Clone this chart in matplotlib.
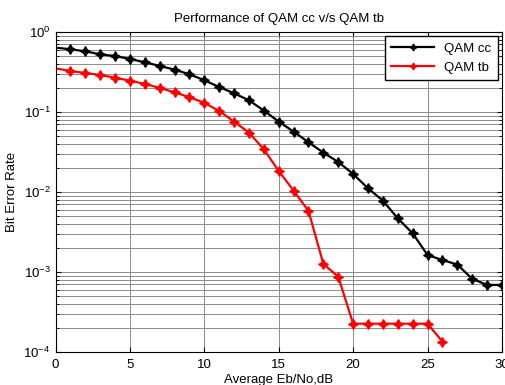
import numpy as np
import matplotlib
matplotlib.use('Agg')
import matplotlib.pyplot as plt
from matplotlib.ticker import LogLocator, NullFormatter

plt.rcParams['font.family'] = ['Liberation Sans', 'DejaVu Sans']

ebno_cc = np.arange(0, 31)
ber_cc = [0.637, 0.607, 0.573, 0.526, 0.50, 0.46, 0.418, 0.376, 0.338, 0.296,
          0.249, 0.205, 0.171, 0.14, 0.104, 0.0758, 0.0568, 0.0418, 0.031, 0.0237,
          0.0168, 0.0111, 0.0078, 0.00467, 0.00304, 0.00163, 0.00141, 0.00124,
          0.00082, 0.00069, 0.00069]

ebno_tb = np.arange(0, 27)
ber_tb = [0.351, 0.325, 0.307, 0.29, 0.268, 0.246, 0.224, 0.2, 0.176, 0.153,
          0.13, 0.103, 0.0757, 0.0552, 0.0341, 0.0183, 0.0104, 0.00579, 0.00126,
          0.000874, 0.000226, 0.000226, 0.000226, 0.000226, 0.000226, 0.000226,
          0.000135]

fig = plt.figure(figsize=(5.06, 3.85), dpi=100)
ax = fig.add_axes([0.1097, 0.0857, 0.8823, 0.8313])

star = (4, 1, 0)
ax.semilogy(ebno_cc, ber_cc, '-', marker=star, color='black', lw=1.6, ms=7,
            markevery=range(1, len(ebno_cc)), label='QAM cc')
ax.semilogy(ebno_tb, ber_tb, '-', marker=star, color='red', lw=1.6, ms=7,
            markevery=range(1, len(ebno_tb)), label='QAM tb')

ax.set_xlim(0, 30)
ax.set_ylim(1e-4, 1)
ax.set_xticks(np.arange(0, 31, 5))
ax.yaxis.set_minor_locator(LogLocator(base=10, subs=np.arange(2, 10)))
ax.yaxis.set_minor_formatter(NullFormatter())
ax.grid(True, which='major', color='#8c8c8c', lw=0.7)
ax.grid(True, which='minor', axis='y', color='#8c8c8c', lw=0.7)
ax.tick_params(which='both', direction='in', top=True, right=True, labelsize=9.5)
ax.tick_params(axis='x', pad=5)
for s in ax.spines.values():
    s.set_linewidth(0.8)

ax.set_title('Performance of QAM cc v/s QAM tb', fontsize=9.5, pad=7)
ax.set_xlabel('Average Eb/No,dB', fontsize=9.5, labelpad=2)
ax.set_ylabel('Bit Error Rate', fontsize=9.5, labelpad=4)
ax.legend(loc='upper right', fontsize=9.5, fancybox=False, edgecolor='black',
          framealpha=1, borderaxespad=0.3, handlelength=3.2, borderpad=0.5,
          markerscale=0.7)

fig.savefig('out.png', dpi=100)
